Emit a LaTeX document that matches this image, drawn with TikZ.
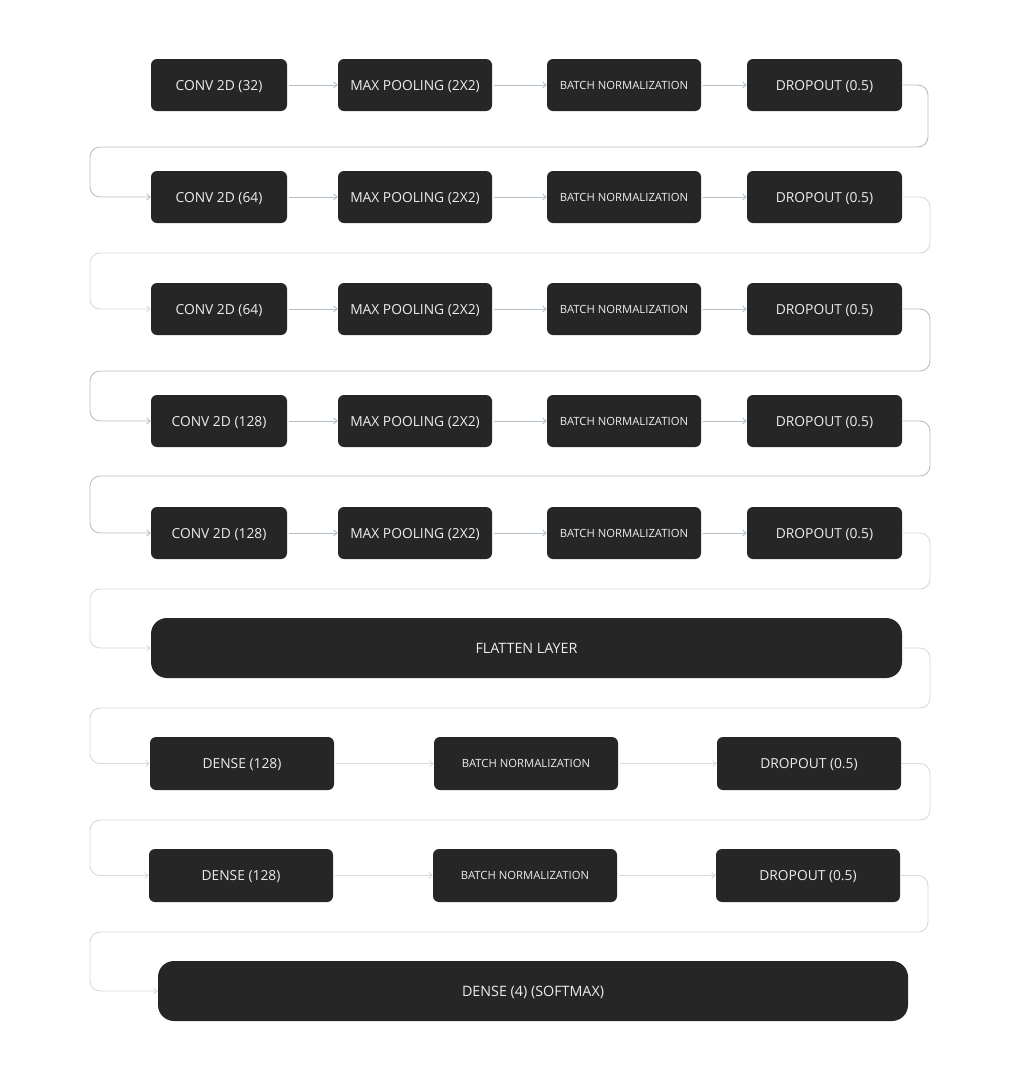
\documentclass[tikz,border=0pt]{standalone}
\usepackage{fontspec}
\setmainfont{Open Sans}
\usetikzlibrary{arrows.meta}
\definecolor{boxc}{HTML}{262626}
\definecolor{txtc}{HTML}{EDEDED}
\definecolor{linec}{HTML}{B4C0CA}
\definecolor{linel}{HTML}{D3DBE1}
\begin{document}
\begin{tikzpicture}[x=1pt,y=-1pt,
  blk/.style={fill=boxc, rounded corners=6pt, text=txtc, inner sep=0pt,
    minimum height=52pt, text height=10pt, text depth=0pt,
    font=\fontsize{13.8}{16}\selectfont},
  bn/.style={blk, text height=8pt, font=\fontsize{11.3}{13}\selectfont},
  wide/.style={blk, rounded corners=16pt, minimum height=60pt, minimum width=751pt,
    font=\fontsize{14.3}{16}\selectfont},
  conn/.style={draw=linec, line width=0.9pt, -{Straight Barb[length=3.5pt,width=6pt]}},
  connl/.style={conn, draw=linel},
  wrap/.style={conn, rounded corners=10pt},
  wrapl/.style={connl, rounded corners=10pt}]
\useasboundingbox (0,0) rectangle (1020,1080);
\fill[white] (0,0) rectangle (1020,1080);

% rows of conv blocks
\foreach \r/\y/\n in {1/85/32, 2/197/64, 3/309/64, 4/421/128, 5/533/128}{
  \node[blk, minimum width=136pt] (a\r) at (219,\y) {CONV 2D (\n)};
  \node[blk, minimum width=154pt] (b\r) at (415,\y) {MAX POOLING (2X2)};
  \node[bn, minimum width=154pt] (c\r) at (624,\y) {BATCH NORMALIZATION};
  \node[blk, minimum width=155pt] (d\r) at (824.5,\y) {DROPOUT (0.5)};
  \draw[conn] ([xshift=2pt]a\r.east) -- (b\r.west);
  \draw[conn] ([xshift=2pt]b\r.east) -- (c\r.west);
  \draw[conn] ([xshift=2pt]c\r.east) -- (d\r.west);
}

\node[wide] (fl) at (526.5,648) {FLATTEN LAYER};

\node[blk, minimum width=184pt, minimum height=53pt] (e1) at (242,763.5) {DENSE (128)};
\node[bn, minimum width=184pt, minimum height=53pt] (f1) at (526,763.5) {BATCH NORMALIZATION};
\node[blk, minimum width=184pt, minimum height=53pt] (g1) at (809,763.5) {DROPOUT (0.5)};
\node[blk, minimum width=184pt, minimum height=53pt] (e2) at (241,875.5) {DENSE (128)};
\node[bn, minimum width=184pt, minimum height=53pt] (f2) at (525,875.5) {BATCH NORMALIZATION};
\node[blk, minimum width=184pt, minimum height=53pt] (g2) at (808,875.5) {DROPOUT (0.5)};
\node[wide, minimum width=750pt] (out) at (533,991) {DENSE (4) (SOFTMAX)};

\draw[connl] ([xshift=2pt]e1.east) -- (f1.west);
\draw[connl] ([xshift=2pt]f1.east) -- (g1.west);
\draw[connl] ([xshift=2pt]e2.east) -- (f2.west);
\draw[connl] ([xshift=2pt]f2.east) -- (g2.west);

% wrap-around connectors
\draw[wrap] ([xshift=1pt]d1.east) -| (928,147) -| (90,197) -- (a2.west);
\draw[wrapl] ([xshift=1pt]d2.east) -| (930,253) -| (90,309) -- (a3.west);
\draw[wrap] ([xshift=1pt]d3.east) -| (930,371) -| (90,421) -- (a4.west);
\draw[wrap] ([xshift=1pt]d4.east) -| (930,476) -| (90,533) -- (a5.west);
\draw[wrapl] ([xshift=1pt]d5.east) -| (930,589) -| (90,648) -- (fl.west);
\draw[wrapl] ([xshift=1pt]fl.east) -| (930,708) -| (90,763.5) -- (e1.west);
\draw[wrapl] ([xshift=1pt]g1.east) -| (930,820) -| (90,875.5) -- (e2.west);
\draw[wrapl] ([xshift=1pt]g2.east) -| (928,932) -| (90,991) -- (out.west);
\end{tikzpicture}
\end{document}
